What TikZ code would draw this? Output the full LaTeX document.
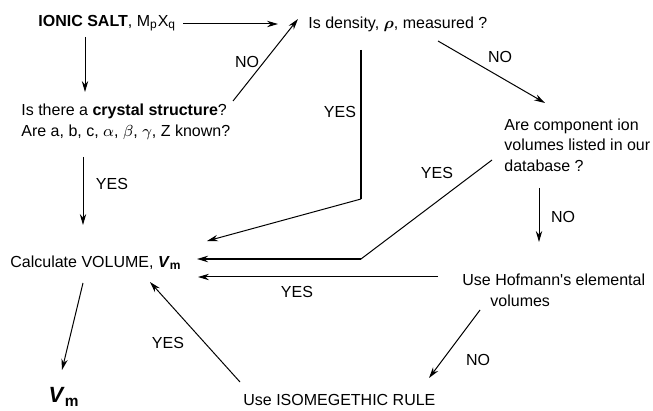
\documentclass[tikz,border=0pt]{standalone}
\usepackage{amsmath,amssymb}
\usepackage{fontspec}
\setmainfont{Liberation Sans}
\usepackage{tikz}
\usetikzlibrary{arrows.meta,positioning}

\tikzset{
  txt/.style={inner sep=0pt, font=\fontsize{8}{10.3}\selectfont},
  flow/.style={line width=0.5pt, -{Stealth[length=5.5pt,width=3.2pt]}},
}

\begin{document}
\begin{tikzpicture}[x=0.5pt,y=-0.5pt]
    \useasboundingbox (0,0) rectangle (653,411);
    % questions and steps
    \node[txt, anchor=west] (ionic) at (38,23) {\textbf{IONIC SALT}, M\textsubscript{p}X\textsubscript{q}};
    \node[txt, anchor=west] (dens) at (308,24) {Is density, $\boldsymbol{\rho}$, measured ?};
    \node[txt, anchor=west, align=left] (cryst) at (21,122) {Is there a \textbf{crystal structure}?\\Are a, b, c, $\alpha$, $\beta$, $\gamma$, Z known?};
    \node[txt, anchor=west, align=left] (comp) at (504,145) {Are component ion\\volumes listed in our\\database ?};
    \node[txt, anchor=west] (calc) at (10,263) {Calculate VOLUME, \textbf{\textit{V}}\textsubscript{\textbf{m}}};
    \node[txt, anchor=west, align=left] (hof) at (462,290) {Use Hofmann\textquotesingle s elemental\\\hspace*{1.75em}volumes};
    \node[txt, anchor=west] (iso) at (243,400) {Use ISOMEGETHIC RULE};
    \node[txt, font=\fontsize{11}{13}\selectfont] (vm) at (64,397) {\textbf{\textit{V}}\textsubscript{\textbf{m}}};
    % answers
    \node[txt] (no1) at (247,62) {NO};
    \node[txt] (no2) at (500,57) {NO};
    \node[txt] (no3) at (563,217) {NO};
    \node[txt] (no4) at (478,360) {NO};
    \node[txt] (yes1) at (340,112) {YES};
    \node[txt] (yes2) at (437,173) {YES};
    \node[txt] (yes3) at (297,292) {YES};
    \node[txt] (yes4) at (168,343) {YES};
    \node[txt] (yes5) at (112,184) {YES};
    % arrow ends
    \coordinate (ionic-e) at (183,24);
    \coordinate (ionic-s) at (85,37);
    \coordinate (dens-w) at (278,24);
    \coordinate (dens-sw) at (298,19);
    \coordinate (dens-s) at (361,50);
    \coordinate (dens-se) at (438,41);
    \coordinate (cryst-n) at (85,92);
    \coordinate (cryst-ne) at (233,101);
    \coordinate (cryst-s) at (83,157);
    \coordinate (comp-nw) at (545,103);
    \coordinate (comp-sw) at (492,160);
    \coordinate (comp-s) at (539,188);
    \coordinate (hof-n) at (539,242);
    \coordinate (hof-w) at (438,277);
    \coordinate (hof-sw) at (480,310);
    \coordinate (iso-ne) at (429,378);
    \coordinate (iso-nw) at (240,382);
    \coordinate (calc-n) at (83,225);
    \coordinate (calc-ne) at (207,241);
    \coordinate (calc-e1) at (197,259);
    \coordinate (calc-e2) at (198,277);
    \coordinate (calc-se) at (150,282);
    \coordinate (calc-s) at (83,283);
    \coordinate (vm-n) at (62,370);
    \coordinate (bend1) at (361,199);
    \coordinate (bend2) at (361,259);
    % connectors
    \draw[flow] (ionic-e) -- (dens-w);
    \draw[flow] (ionic-s) -- (cryst-n);
    \draw[flow] (cryst-ne) -- (dens-sw);
    \draw[flow] (cryst-s) -- (calc-n);
    \draw[line width=0.8pt] (dens-s) -- (bend1);
    \draw[flow] (bend1) -- (calc-ne);
    \draw[flow] (dens-se) -- (comp-nw);
    \draw[line width=0.5pt] (comp-sw) -- (bend2);
    \draw[flow, line width=1pt] (bend2) -- (calc-e1);
    \draw[flow] (comp-s) -- (hof-n);
    \draw[flow] (hof-w) -- (calc-e2);
    \draw[flow] (hof-sw) -- (iso-ne);
    \draw[flow] (iso-nw) -- (calc-se);
    \draw[flow] (calc-s) -- (vm-n);
\end{tikzpicture}
\end{document}
